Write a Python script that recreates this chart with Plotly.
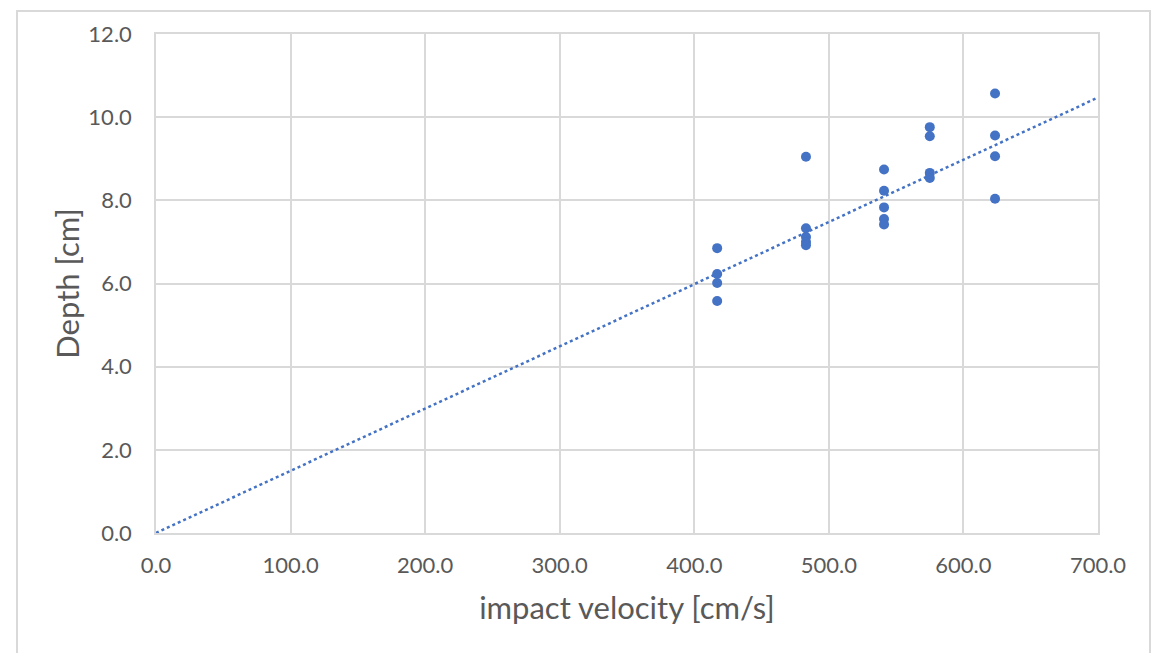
import plotly.graph_objects as go

velocity = [417, 417, 417, 417,
            483, 483, 483, 483, 483,
            541, 541, 541, 541, 541,
            575, 575, 575, 575,
            623.5, 623.5, 623.5, 623.5]
depth = [6.85, 6.23, 6.01, 5.58,
         9.05, 7.33, 7.12, 7.00, 6.92,
         8.74, 8.23, 7.83, 7.55, 7.42,
         9.76, 9.54, 8.66, 8.54,
         10.57, 9.56, 9.06, 8.04]
x_ticks = [0, 100, 200, 300, 400, 500, 600, 700]
y_ticks = [0, 2, 4, 6, 8, 10, 12]
trend_slope = 0.01496          # linear trendline through origin
trend_x = [0, 700]
trend_y = [0, trend_slope * 700]

blue = "#4472C4"
grey_txt = "#595959"
grid = "#D9D9D9"
font = "Lato, 'Open Sans', sans-serif"

# page body has an 8px margin; figure sized to fit the window
W, H = 1152, 645
L, T, R, B = 148, 24, 62, 120
pw, ph = W - L - R, H - T - B

fig = go.Figure()
fig.add_trace(go.Scatter(x=trend_x, y=trend_y, mode="lines",
                         line=dict(color=blue, width=2.5, dash="dot"),
                         showlegend=False, hoverinfo="skip"))
fig.add_trace(go.Scatter(x=velocity, y=depth, mode="markers",
                         marker=dict(color=blue, size=10),
                         showlegend=False))

fig.update_layout(
    width=W, height=H,
    paper_bgcolor="white", plot_bgcolor="white",
    margin=dict(l=L, r=R, t=T, b=B),
    font=dict(family=font, color=grey_txt, size=22),
    xaxis=dict(range=[0, 700], tickvals=x_ticks,
               ticktext=[f"{v:.1f}" for v in x_ticks],
               showgrid=True, gridcolor=grid, gridwidth=1.5,
               showline=True, linecolor=grid, linewidth=1.5,
               zeroline=False, ticks="", ticklabelstandoff=12,
               title=dict(text="impact velocity [cm/s]",
                          font=dict(size=31, color=grey_txt), standoff=20),
               mirror=True),
    yaxis=dict(range=[0, 12], tickvals=y_ticks,
               ticktext=[f"{v:.1f}" for v in y_ticks],
               showgrid=True, gridcolor=grid, gridwidth=1.5,
               showline=True, linecolor=grid, linewidth=1.5,
               zeroline=False, ticks="", ticklabelstandoff=18,
               title=dict(text="Depth [cm]",
                          font=dict(size=31, color=grey_txt), standoff=0),
               mirror=True),
    shapes=[dict(type="rect", xref="paper", yref="paper",
                 x0=(9 - L) / pw, x1=(1142 - L) / pw,
                 y0=(H - B - 700) / ph, y1=(H - B - 1) / ph,
                 line=dict(color="#D9D9D9", width=2), fillcolor="rgba(0,0,0,0)",
                 layer="below")],
)

fig.write_html("out.html")
